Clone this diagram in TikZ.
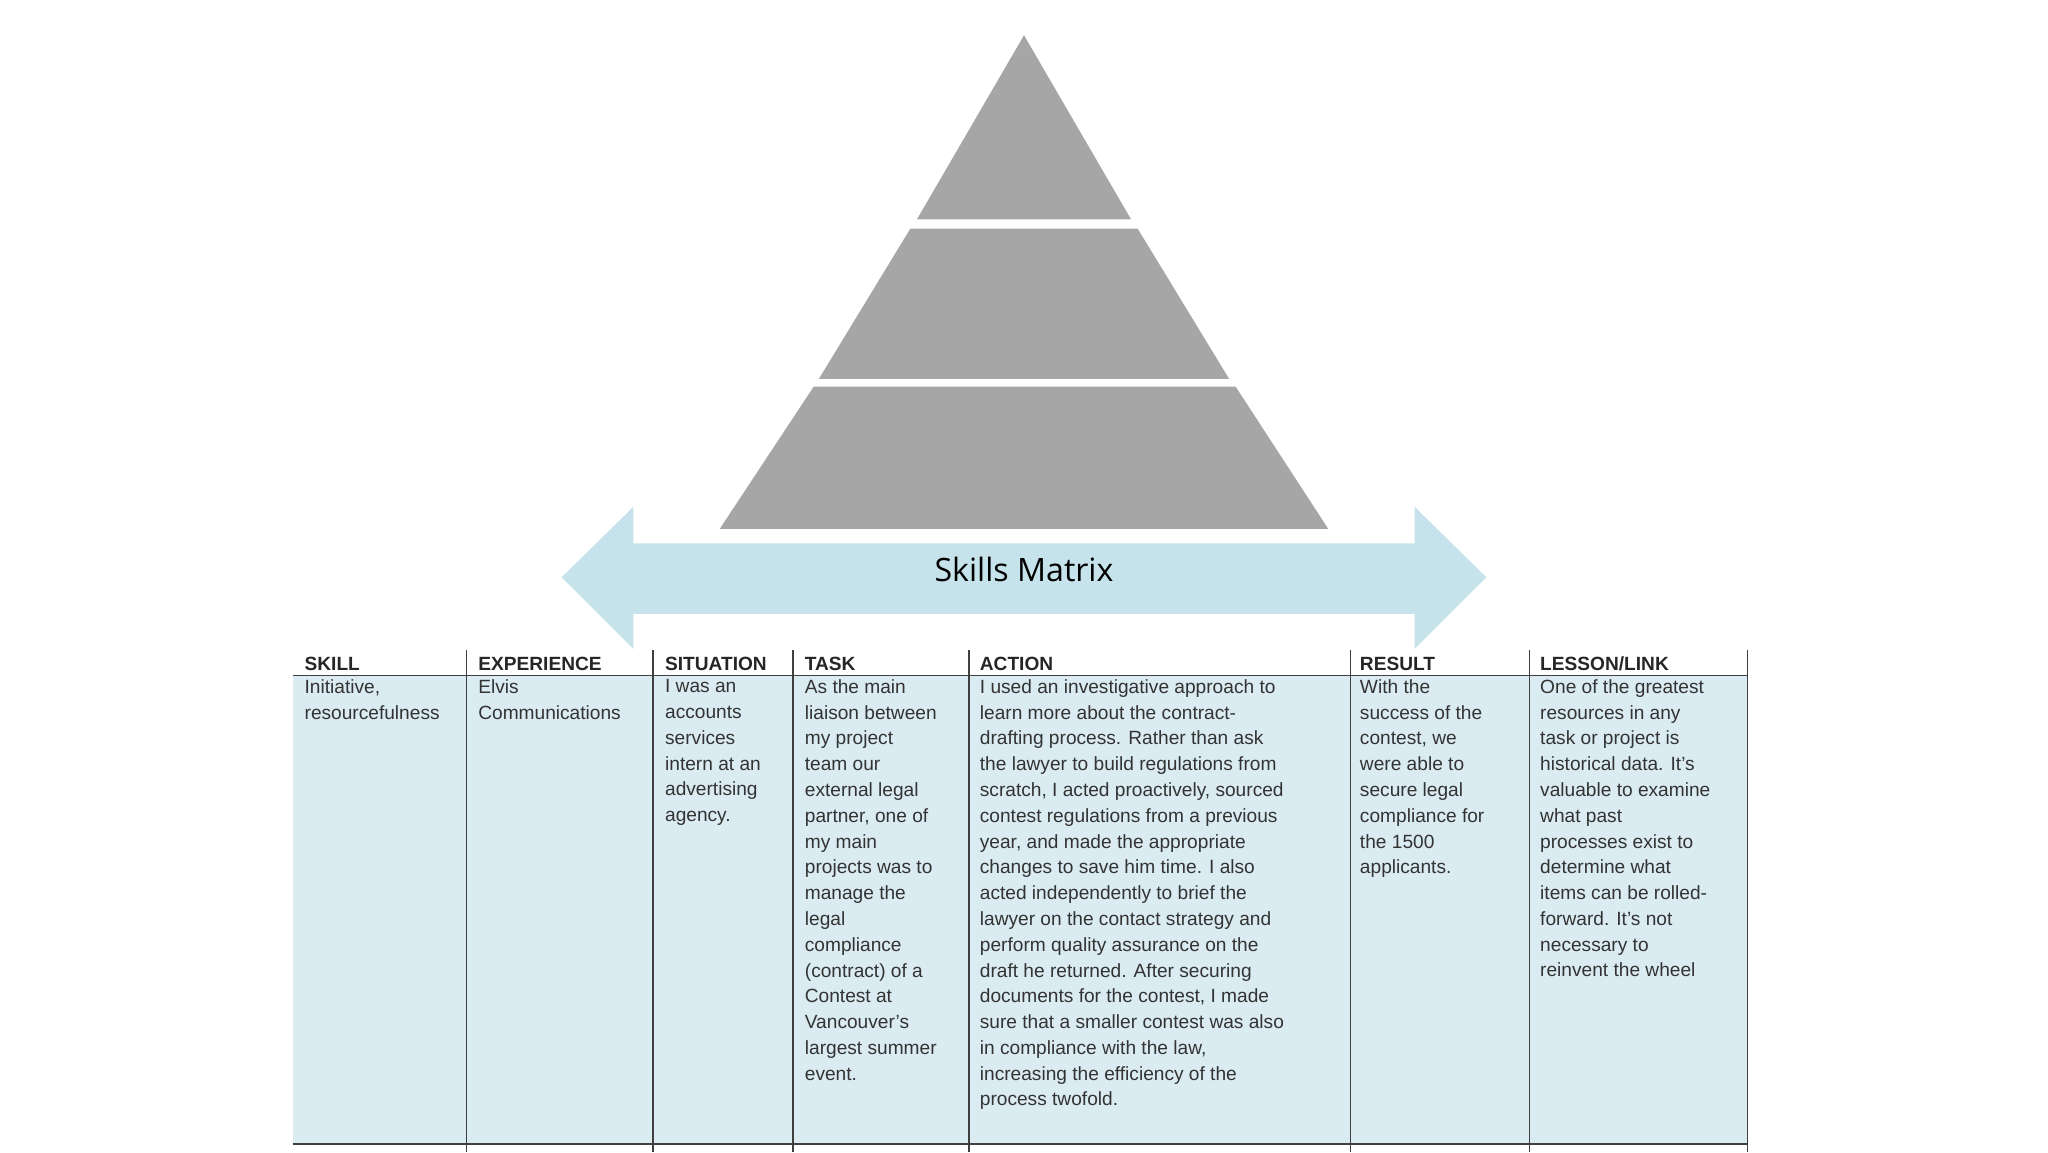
\documentclass[tikz,border=0pt]{standalone}
\usepackage{fontspec}
\setmainfont{Liberation Sans}
\newfontfamily\titlefont{Open Sans}
\usetikzlibrary{shapes.arrows}
\definecolor{pyr}{HTML}{A6A6A6}
\definecolor{arr}{HTML}{C6E2EB}
\definecolor{cell}{HTML}{DAEBF2}
\definecolor{txt}{HTML}{333333}
\tikzset{x=0.03cm,y=-0.03cm,
 tier/.style={fill=pyr,draw=none},
 cellt/.style={anchor=north west,inner sep=0pt,align=left,text=txt,font=\fontsize{12.5}{16.85}\selectfont},
 head/.style={anchor=west,inner sep=0pt,text=black!85,font=\bfseries\fontsize{12.5}{15}\selectfont},
 grid/.style={draw=black!75,line width=0.9pt}}
\begin{document}
\begin{tikzpicture}
\useasboundingbox (0,0) rectangle (1568,882);
\fill[white] (0,0) rectangle (1568,882);
% pyramid
\fill[tier] (784,27) -- (866,168) -- (702,168) -- cycle;
\fill[tier] (697,175) -- (871,175) -- (941,290) -- (627,290) -- cycle;
\fill[tier] (623,296) -- (946,296) -- (1017,405) -- (551,405) -- cycle;
% arrow
\fill[arr] (430,442) -- (485,388) -- (485,416) -- (1083,416) -- (1083,388) -- (1138,442) -- (1083,497) -- (1083,470) -- (485,470) -- (485,497) -- cycle;
\node (title) at (784,436) {\titlefont\fontsize{21}{24}\selectfont Skills Matrix};
% table
\fill[cell] (224,517) rectangle (1338,876);
\draw[grid] (224,517) -- (1338,517);
\draw[grid] (224,876) -- (1338,876);
\foreach \x in {357,500,607,742,1034,1171,1338} \draw[grid] (\x,498) -- (\x,882);
\node[head] (h1) at (233,508) {SKILL};
\node[head] (h2) at (366,508) {EXPERIENCE};
\node[head] (h3) at (509,508) {SITUATION};
\node[head] (h4) at (616,508) {TASK};
\node[head] (h5) at (750,508) {ACTION};
\node[head] (h6) at (1041,508) {RESULT};
\node[head] (h7) at (1179,508) {LESSON/LINK};
\node[cellt] (c1) at (233,520) {Initiative,\\resourcefulness};
\node[cellt] (c2) at (366,520) {Elvis\\Communications};
\node[cellt] (c3) at (509,520) {I was an\\accounts\\services\\intern at an\\advertising\\agency.};
\node[cellt] (c4) at (616,520) {As the main\\liaison between\\my project\\team our\\external legal\\partner, one of\\my main\\projects was to\\manage the\\legal\\compliance\\(contract) of a\\Contest at\\Vancouver's\\largest summer\\event.};
\node[cellt] (c5) at (750,520) {I used an investigative approach to\\learn more about the contract-\\drafting process. Rather than ask\\the lawyer to build regulations from\\scratch, I acted proactively, sourced\\contest regulations from a previous\\year, and made the appropriate\\changes to save him time. I also\\acted independently to brief the\\lawyer on the contact strategy and\\perform quality assurance on the\\draft he returned. After securing\\documents for the contest, I made\\sure that a smaller contest was also\\in compliance with the law,\\increasing the efficiency of the\\process twofold.};
\node[cellt] (c6) at (1041,520) {With the\\success of the\\contest, we\\were able to\\secure legal\\compliance for\\the 1500\\applicants.};
\node[cellt] (c7) at (1179,520) {One of the greatest\\resources in any\\task or project is\\historical data. It's\\valuable to examine\\what past\\processes exist to\\determine what\\items can be rolled-\\forward. It's not\\necessary to\\reinvent the wheel};
\end{tikzpicture}
\end{document}
